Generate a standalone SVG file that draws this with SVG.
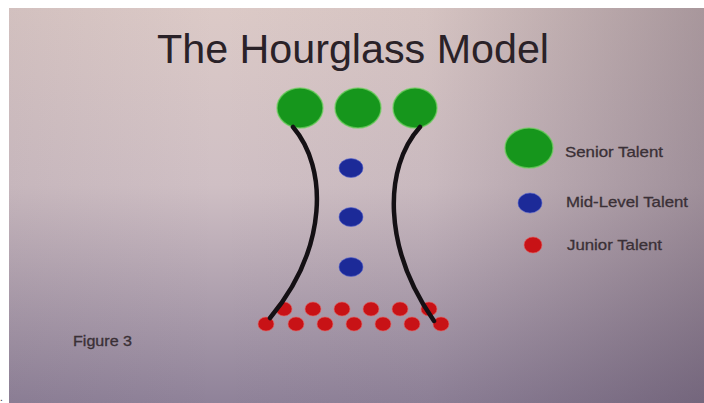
<svg xmlns="http://www.w3.org/2000/svg" width="704" height="403" viewBox="0 0 704 403">
<defs>
<linearGradient id="bgv" x1="0" y1="0" x2="0" y2="1">
<stop offset="0" stop-color="#dccac7"/>
<stop offset="0.45" stop-color="#cfbfc4"/>
<stop offset="1" stop-color="#8f8299"/>
</linearGradient>
<linearGradient id="bgh" x1="0" y1="0" x2="1" y2="0">
<stop offset="0" stop-color="#3a2a40" stop-opacity="0.06"/>
<stop offset="0.3" stop-color="#3a2a40" stop-opacity="0"/>
<stop offset="0.6" stop-color="#3a2a40" stop-opacity="0.04"/>
<stop offset="1" stop-color="#3a2a40" stop-opacity="0.32"/>
</linearGradient>
</defs>
<style>
.green{fill:#16961c;stroke:#6fd060;stroke-width:1.5;stroke-opacity:0.7}
.blue{fill:#1c2a98;stroke:#5a68d0;stroke-width:1;stroke-opacity:0.6}
.red{fill:#c81216;stroke:#e86060;stroke-width:1;stroke-opacity:0.6}
.curve{fill:none;stroke:#141014;stroke-width:4.5;stroke-linecap:round}
.txt{font-family:"Liberation Sans",Arial,sans-serif;fill:#2a2228}
.leg{font-size:15px;fill:#3a3036;stroke:#3a3036;stroke-width:0.3}
</style>
<rect x="0" y="0" width="704" height="403" fill="#ffffff"/>
<rect x="9" y="8" width="695" height="395" fill="url(#bgv)"/>
<rect x="9" y="8" width="695" height="395" fill="url(#bgh)"/>
<text class="txt" x="353" y="63" font-size="40" text-anchor="middle" textLength="392" lengthAdjust="spacingAndGlyphs">The Hourglass Model</text>
<g id="senior">
<ellipse class="green" cx="300" cy="108" rx="23" ry="20"/>
<ellipse class="green" cx="358" cy="108" rx="23" ry="20"/>
<ellipse class="green" cx="415" cy="108" rx="22" ry="20"/>
</g>
<g id="mid">
<ellipse class="blue" cx="351" cy="168" rx="12" ry="9.5"/>
<ellipse class="blue" cx="351" cy="217" rx="12" ry="9.5"/>
<ellipse class="blue" cx="351" cy="267" rx="12" ry="9.5"/>
</g>
<g id="junior">
<ellipse class="red" cx="284" cy="309" rx="8" ry="7"/>
<ellipse class="red" cx="313" cy="309" rx="8" ry="7"/>
<ellipse class="red" cx="342" cy="309" rx="8" ry="7"/>
<ellipse class="red" cx="371" cy="309" rx="8" ry="7"/>
<ellipse class="red" cx="400" cy="309" rx="8" ry="7"/>
<ellipse class="red" cx="429" cy="309" rx="8" ry="7"/>
<ellipse class="red" cx="266" cy="324" rx="8" ry="7"/>
<ellipse class="red" cx="296" cy="324" rx="8" ry="7"/>
<ellipse class="red" cx="325" cy="324" rx="8" ry="7"/>
<ellipse class="red" cx="354" cy="324" rx="8" ry="7"/>
<ellipse class="red" cx="383" cy="324" rx="8" ry="7"/>
<ellipse class="red" cx="412" cy="324" rx="8" ry="7"/>
<ellipse class="red" cx="441" cy="324" rx="8" ry="7"/>
</g>
<g id="connectors">
<path class="curve" d="M 293 127 C 328 168, 328 248, 270 318"/>
<path class="curve" d="M 420 127 C 383 168, 383 248, 434 321"/>
</g>
<g id="legend">
<ellipse class="green" cx="529" cy="148" rx="24" ry="20"/>
<text class="txt leg" x="565" y="157" textLength="98" lengthAdjust="spacingAndGlyphs">Senior Talent</text>
<ellipse class="blue" cx="530" cy="203" rx="12" ry="10"/>
<text class="txt leg" x="566" y="207" textLength="122" lengthAdjust="spacingAndGlyphs">Mid-Level Talent</text>
<ellipse class="red" cx="533" cy="245" rx="9" ry="8"/>
<text class="txt leg" x="567" y="250" textLength="95" lengthAdjust="spacingAndGlyphs">Junior Talent</text>
</g>
<text class="txt leg" x="73" y="346" font-size="14" textLength="59" lengthAdjust="spacingAndGlyphs" style="font-size:14px">Figure 3</text>
<text class="txt" x="0" y="401" font-size="10">.</text>
</svg>
